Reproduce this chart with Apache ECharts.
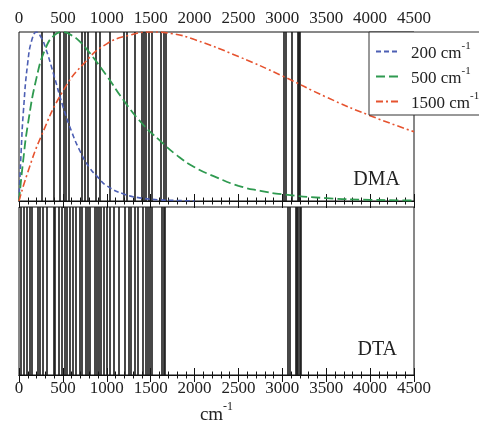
<!DOCTYPE html>
<html>
<head>
<meta charset="utf-8">
<script src="https://cdn.jsdelivr.net/npm/echarts@6/dist/echarts.min.js"></script>
<style>
  html,body{margin:0;padding:0;background:#fff;}
  #main{width:479px;height:426px;}
</style>
</head>
<body>
<div id="main"></div>
<script>
// x ticks (cm-1)
const xTicks = [0, 500, 1000, 1500, 2000, 2500, 3000, 3500, 4000, 4500];

// DMA curves: [cm-1, normalised value]
const curve200 = [[0,0],[25,0.30],[50,0.53],[100,0.82],[150,0.96],[200,1.0],[250,0.97],[300,0.91],[400,0.74],[500,0.56],[600,0.41],[700,0.29],[800,0.20],[900,0.14],[1000,0.09],[1200,0.04],[1400,0.017],[1600,0.007],[1800,0.003],[2000,0.001]];
const curve500 = [[0,0],[50,0.25],[100,0.45],[200,0.73],[300,0.90],[400,0.98],[500,1.0],[600,0.98],[700,0.94],[800,0.88],[1000,0.74],[1200,0.59],[1400,0.46],[1600,0.36],[1800,0.27],[2000,0.20],[2250,0.14],[2500,0.09],[2750,0.06],[3000,0.04],[3500,0.017],[4000,0.007],[4500,0.003]];
const curve1500 = [[0,0],[100,0.17],[250,0.38],[500,0.65],[750,0.82],[1000,0.93],[1250,0.98],[1500,1.0],[1750,0.99],[2000,0.955],[2500,0.855],[3000,0.74],[3500,0.615],[4000,0.505],[4500,0.41]];

// stick frequencies (cm-1)
const dmaSticks = [258,391,459,505,531,569,714,744,782,877,923,1029,1188,1226,1321,1397,1416,1443,1473,1511,1617,1644,1670,3011,3037,3106,3180,3190,3200];
const dtaSticks = [23,57,87,118,148,213,239,270,315,391,410,448,486,516,543,581,611,649,687,718,763,782,808,858,885,907,934,968,999,1029,1082,1131,1207,1245,1276,1314,1352,1409,1443,1469,1492,1511,1625,1644,1663,3060,3079,3150,3165,3180,3195,3207];

const serif = '"Liberation Serif", "DejaVu Serif", serif';

let chart = echarts.init(document.getElementById('main'), null, {renderer: 'canvas'});

function xAxisDef(grid, pos, withLabel, extra){
    let ax = {
        type: 'value',
        gridIndex: grid,
        position: pos,
        min: xTicks[0],
        max: xTicks[xTicks.length - 1],
        interval: 500,
        axisLine: {show: true, lineStyle: {color: '#111', width: 1}},
        axisTick: {show: true, inside: true, length: 7, lineStyle: {color: '#111'}},
        minorTick: {show: true, splitNumber: 5, length: 3.5, lineStyle: {color: '#111'}},
        splitLine: {show: false},
        axisLabel: {
            show: withLabel,
            margin: 5,
            formatter: v => String(v),
            fontFamily: serif,
            fontSize: 17,
            color: '#222'
        }
    };
    return Object.assign(ax, extra || {});
}

function stickSeries(grid, values){
    return {
        type: 'line',
        xAxisIndex: grid * 2,
        yAxisIndex: grid,
        data: [],
        silent: true,
        markLine: {
            silent: true,
            symbol: ['none', 'none'],
            label: {show: false},
            z: 1,
            lineStyle: {color: '#1a1a1a', width: 1.6, type: 'solid'},
            emphasis: {disabled: true},
            data: values.map(v => ({xAxis: v}))
        }
    };
}

let option = {
    animation: false,
    grid: [
        {left: 19, top: 32, width: 395, height: 169, show: true, borderColor: '#111', borderWidth: 1},
        {left: 19, top: 207, width: 395, height: 169, show: true, borderColor: '#111', borderWidth: 1}
    ],
    xAxis: [
        xAxisDef(0, 'top', true),
        xAxisDef(0, 'bottom', false),
        xAxisDef(1, 'top', false),
        xAxisDef(1, 'bottom', true, {
            name: '{a|cm}{s|-1}',
            nameLocation: 'middle',
            nameGap: 26,
            nameTextStyle: {
                rich: {
                    a: {fontFamily: serif, fontSize: 19, color: '#222', lineHeight: 24, verticalAlign: 'bottom'},
                    s: {fontFamily: serif, fontSize: 12, color: '#222', lineHeight: 24, verticalAlign: 'top'}
                }
            }
        })
    ],
    yAxis: [
        {type: 'value', gridIndex: 0, min: 0, max: 1, show: false},
        {type: 'value', gridIndex: 1, min: 0, max: 1, show: false}
    ],
    title: [
        {text: 'DMA', right: 79, top: 170, padding: 0,
         textStyle: {fontFamily: serif, fontSize: 20, fontWeight: 'normal', color: '#222'}},
        {text: 'DTA', right: 82, top: 340, padding: 0,
         textStyle: {fontFamily: serif, fontSize: 20, fontWeight: 'normal', color: '#222'}}
    ],
    legend: {
        data: ['200', '500', '1500'],
        orient: 'vertical',
        left: 369,
        top: 32,
        padding: [9, 12, 3, 6],
        itemGap: 4,
        itemWidth: 24,
        itemHeight: 14,
        borderColor: '#333',
        borderWidth: 1,
        backgroundColor: '#fff',
        z: 10,
        itemStyle: {opacity: 0},
        formatter: function(name){
            return '{a|' + name + ' cm}{s|-1}';
        },
        textStyle: {
            rich: {
                a: {fontFamily: serif, fontSize: 17, color: '#222', lineHeight: 21, padding: [0, 0, 0, 6], verticalAlign: 'bottom'},
                s: {fontFamily: serif, fontSize: 11, color: '#222', lineHeight: 21, verticalAlign: 'top'}
            }
        }
    },
    series: [
        stickSeries(0, dmaSticks),
        stickSeries(1, dtaSticks),
        {
            name: '200', type: 'line', xAxisIndex: 0, yAxisIndex: 0, z: 3,
            smooth: true, symbol: 'none', data: curve200,
            lineStyle: {color: '#4d5fb4', width: 1.6, type: [5, 3]},
            itemStyle: {color: '#4d5fb4'}
        },
        {
            name: '500', type: 'line', xAxisIndex: 0, yAxisIndex: 0, z: 3,
            smooth: true, symbol: 'none', data: curve500,
            lineStyle: {color: '#2f9a50', width: 1.8, type: [9, 4]},
            itemStyle: {color: '#2f9a50'}
        },
        {
            name: '1500', type: 'line', xAxisIndex: 0, yAxisIndex: 0, z: 3,
            smooth: true, symbol: 'none', data: curve1500,
            lineStyle: {color: '#e6532f', width: 1.6, type: [7, 3, 2, 3]},
            itemStyle: {color: '#e6532f'}
        }
    ]
};

chart.setOption(option);
</script>
</body>
</html>
